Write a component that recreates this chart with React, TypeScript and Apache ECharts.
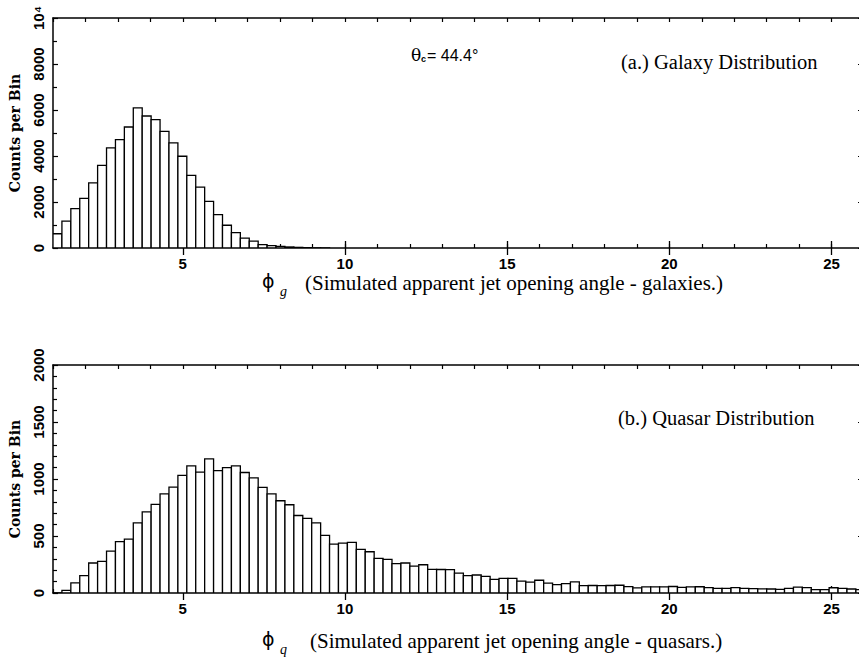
import React, { useEffect, useRef } from "react";
import * as echarts from "echarts";

// Histogram binning (degrees)
const BIN_START = 1.0;
const BIN_WIDTH = 0.275;

// (a.) Galaxy distribution: counts per bin
const galaxyCounts = [
  620, 1170, 1710, 2160, 2830, 3590, 4350, 4710, 5260, 6090,
  5740, 5580, 5070, 4570, 3990, 3160, 2650, 2030, 1450, 990,
  670, 430, 295, 150, 100, 70, 45, 28, 15, 8, 4,
];

// (b.) Quasar distribution: counts per bin
const quasarCounts = [
  0, 23, 88, 152, 263, 277, 368, 450, 473, 616,
  712, 777, 870, 928, 1031, 1115, 1060, 1177, 1074, 1100,
  1115, 1057, 1010, 926, 870, 809, 774, 680, 654, 616,
  505, 429, 438, 444, 382, 362, 304, 295, 257, 263,
  236, 248, 207, 206, 205, 175, 152, 158, 146, 120,
  129, 129, 104, 95, 112, 86, 74, 82, 98, 64,
  66, 65, 66, 68, 56, 45, 53, 53, 53, 57,
  50, 53, 55, 48, 40, 41, 48, 40, 38, 37,
  35, 31, 41, 52, 48, 30, 30, 46, 40, 35, 30,
];

const X_MIN = 1;
const X_MAX = 26;
const xMinorTicks = [1, 2, 3, 4, 5, 6, 7, 8, 9, 10, 11, 12, 13, 14, 15, 16, 17, 18, 19, 20, 21, 22, 23, 24, 25, 26];
const xMajorTicks = [5, 10, 15, 20, 25];

const galaxyYMax = 10000;
const galaxyYInterval = 2000;
const galaxyYLabels: Record<number, string> = { 0: "0", 2000: "2000", 4000: "4000", 6000: "6000", 8000: "8000", 10000: "10⁴" };

const quasarYMax = 2000;
const quasarYInterval = 500;
const quasarYLabels: Record<number, string> = { 0: "0", 500: "500", 1000: "1000", 1500: "1500", 2000: "2000" };

function toBins(counts: number[]) {
  return counts.map((c, i) => [BIN_START + i * BIN_WIDTH, BIN_START + (i + 1) * BIN_WIDTH, c]);
}

const TICK_FONT = "Liberation Sans";
const SERIF = "Liberation Serif";

export default function App() {
  const ref = useRef<HTMLDivElement>(null);
  useEffect(() => {
    if (!ref.current) return;
    const chart = echarts.init(ref.current, undefined, { renderer: "svg" });

    const grids = [
      { left: 53, top: 18, width: 811, height: 230 },
      { left: 53, top: 365, width: 811, height: 228 },
    ];

    const lineStyle = { color: "#000", width: 1.5 };

    const xAxes: any[] = [];
    const yAxes: any[] = [];
    grids.forEach((_, gi) => {
      // bottom minor
      xAxes.push({
        type: "value", gridIndex: gi, position: "bottom", min: X_MIN, max: X_MAX,
        axisLine: { show: true, onZero: false, lineStyle },
        axisTick: { show: true, inside: true, length: 4, customValues: xMinorTicks, lineStyle: { color: "#000", width: 1.2 } },
        axisLabel: { show: true, customValues: xMajorTicks, margin: 8, color: "#000", fontFamily: TICK_FONT, fontWeight: "bold", fontSize: 15 },
        splitLine: { show: false },
      });
      // bottom major
      xAxes.push({
        type: "value", gridIndex: gi, position: "bottom", min: X_MIN, max: X_MAX,
        axisLine: { show: false },
        axisTick: { show: true, inside: true, length: 7, customValues: xMajorTicks, lineStyle: { color: "#000", width: 1.3 } },
        axisLabel: { show: false },
        splitLine: { show: false },
      });
      // top minor
      xAxes.push({
        type: "value", gridIndex: gi, position: "top", min: X_MIN, max: X_MAX,
        axisLine: { show: true, onZero: false, lineStyle },
        axisTick: { show: true, inside: true, length: 4, customValues: xMinorTicks, lineStyle: { color: "#000", width: 1.2 } },
        axisLabel: { show: false },
        splitLine: { show: false },
      });
      // top major
      xAxes.push({
        type: "value", gridIndex: gi, position: "top", min: X_MIN, max: X_MAX,
        axisLine: { show: false },
        axisTick: { show: true, inside: true, length: 7, customValues: xMajorTicks, lineStyle: { color: "#000", width: 1.3 } },
        axisLabel: { show: false },
        splitLine: { show: false },
      });

      const yMax = gi === 0 ? galaxyYMax : quasarYMax;
      const yInt = gi === 0 ? galaxyYInterval : quasarYInterval;
      const labels = gi === 0 ? galaxyYLabels : quasarYLabels;
      const minorSplit = gi === 0 ? 2 : 5;
      yAxes.push({
        type: "value", gridIndex: gi, position: "left", min: 0, max: yMax, interval: yInt,
        name: "Counts per Bin", nameLocation: "middle", nameGap: 31, nameRotate: 90,
        nameTextStyle: { color: "#000", fontFamily: "DejaVu Serif", fontWeight: "bold", fontSize: 14 },
        axisLine: { show: true, onZero: false, lineStyle },
        axisTick: { show: true, inside: true, length: 5, lineStyle: { color: "#000", width: 1.2 } },
        minorTick: { show: true, splitNumber: minorSplit, length: 4, lineStyle: { color: "#000", width: 1.2 } },
        axisLabel: {
          show: true, rotate: 90, margin: 7, color: "#000", fontFamily: TICK_FONT, fontWeight: "bold", fontSize: 15,
          formatter: (v: number) => labels[v] ?? "",
        },
        splitLine: { show: false },
        minorSplitLine: { show: false },
      });
      yAxes.push({
        type: "value", gridIndex: gi, position: "right", min: 0, max: yMax, interval: yInt,
        axisLine: { show: true, onZero: false, lineStyle },
        axisTick: { show: true, inside: true, length: 6, lineStyle: { color: "#000", width: 1.2 } },
        minorTick: { show: true, splitNumber: minorSplit, length: 3, lineStyle: { color: "#000", width: 1.2 } },
        axisLabel: { show: false },
        splitLine: { show: false },
      });
    });

    const renderItem = (params: any, api: any) => {
      const x0 = api.value(0);
      const x1 = api.value(1);
      const y = api.value(2);
      const p0 = api.coord([x0, 0]);
      const p1 = api.coord([x1, y]);
      return {
        type: "rect",
        shape: { x: p0[0], y: p1[1], width: p1[0] - p0[0], height: p0[1] - p1[1] },
        style: { fill: "#fff", stroke: "#000", lineWidth: 1.3 },
      };
    };

    const txt = (x: number, y: number, text: string, font: string, extra: any = {}) => ({
      type: "text",
      x, y,
      style: { text, font, fill: "#000", align: "left", verticalAlign: "middle", textAlign: "left", textVerticalAlign: "middle", ...extra },
    });

    chart.setOption({
      animation: false,
      backgroundColor: "#fff",
      grid: grids,
      xAxis: xAxes,
      yAxis: yAxes,
      series: [
        {
          type: "custom", xAxisIndex: 0, yAxisIndex: 0, clip: true,
          renderItem, encode: { x: [0, 1], y: 2 }, data: toBins(galaxyCounts),
        },
        {
          type: "custom", xAxisIndex: 4, yAxisIndex: 2, clip: true,
          renderItem, encode: { x: [0, 1], y: 2 }, data: toBins(quasarCounts),
        },
      ],
      graphic: [
        txt(411, 55, "θ", `17px 'DejaVu Serif'`),
        txt(421, 59, "c", `bold 9px 'Liberation Sans'`),
        txt(427, 55, "= 44.4°", `16px 'Liberation Sans'`),
        txt(621, 62, "(a.) Galaxy Distribution", `20.5px '${SERIF}'`),
        txt(618, 418, "(b.) Quasar Distribution", `20.5px '${SERIF}'`),
        txt(262, 281, "ϕ", `19px 'DejaVu Sans'`),
        txt(280, 291, "g", `italic 14px '${SERIF}'`),
        txt(305, 283, "(Simulated apparent jet opening angle - galaxies.)", `21px '${SERIF}'`),
        txt(262, 639, "ϕ", `19px 'DejaVu Sans'`),
        txt(280, 649, "q", `italic 14px '${SERIF}'`),
        txt(310, 641, "(Simulated apparent jet opening angle - quasars.)", `21px '${SERIF}'`),
      ],
    });
    return () => chart.dispose();
  }, []);

  return (
    <div style={{ position: "absolute", left: 0, top: 0, width: 859, height: 661, overflow: "hidden", background: "#fff" }}>
      <div ref={ref} style={{ width: 880, height: 661 }} />
    </div>
  );
}
